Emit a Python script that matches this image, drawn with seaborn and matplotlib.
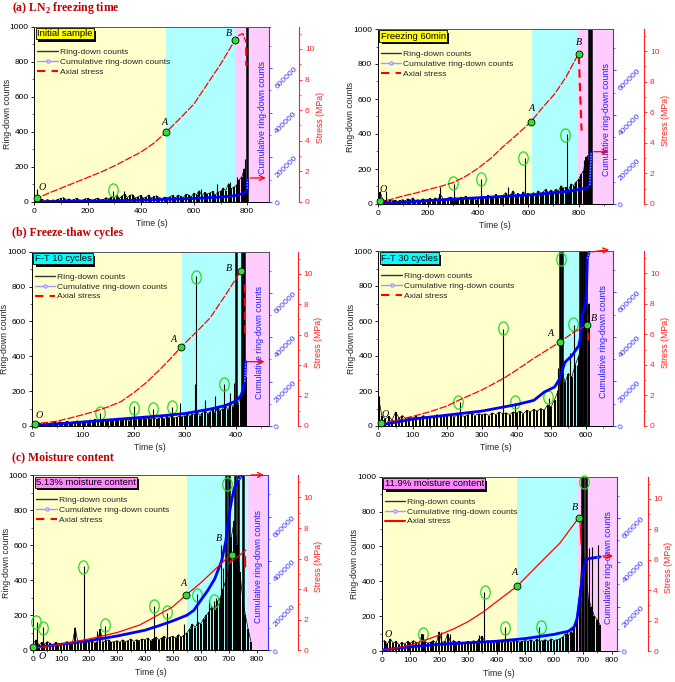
import numpy as np
import matplotlib
matplotlib.use("Agg")
import matplotlib.pyplot as plt
import matplotlib.patheffects as pe
import seaborn as sns
from matplotlib.lines import Line2D
from matplotlib.path import Path
from matplotlib.transforms import Affine2D, offset_copy
from matplotlib.ticker import MultipleLocator, FuncFormatter

sns.set_theme(style="ticks")
plt.rcParams["font.family"] = ["Liberation Sans", "DejaVu Sans"]
plt.rcParams["mathtext.fontset"] = "custom"
plt.rcParams["mathtext.bf"] = "Liberation Serif:bold"
plt.rcParams["mathtext.rm"] = "Liberation Serif:bold"

# ------------------------------------------------------------------ data
# phase boundaries (end of yellow, end of cyan) in s
p1_phase = [495, 755]
p2_phase = [615, 798]
p3_phase = [295, 415]
p4_phase = [527, 598]
p5_phase = [552, 768]
p6_phase = [470, 685]

# ring-down counts (background activity), sampled every `step` s from 0
p1_step, p1_noise = 10, [35,18,10,15,8,14,6,12,9,16, 20,25,12,18,10,15,22,12,10,18,
    20,15,10,18,22,12,15,25,18,30, 22,40,20,35,45,25,38,42,22,30,
    38,22,28,40,22,32,35,25,20,28, 25,30,38,22,40,32,25,45,40,30,
    50,42,65,35,55,45,52,60,40,55, 60,80,65,105,75,85,95,125,145,190, 50]
p2_step, p2_noise = 10, [15,70,25,20,12,25,18,22,15,20, 25,18,30,22,35,20,25,18,30,22,
    25,32,20,35,25,55,30,22,35,40, 30,35,25,40,32,45,30,38,35,25,
    40,32,45,35,50,38,32,55,40,45, 50,65,40,55,75,50,60,45,70,55,
    60,50,65,55,75,60,70,85,65,80, 70,85,75,105,90,95,80,115,105,125,
    140,170,190,270,240,290]
p3_step, p3_noise = 5, [15,20,12,18,10,15,20,12,18,22, 15,25,18,20,28,15,22,25,30,20,
    25,30,22,35,28,40,25,30,35,28, 30,40,35,28,45,32,38,42,30,45,
    40,35,50,38,45,40,55,42,48,38, 45,50,40,55,48,60,45,50,58,52,
    60,75,55,70,65,80,60,75,90,70, 80,95,75,110,85,100,120,90,130,110,
    150,120,180,200,280]
p4_step, p4_noise = 10, [170,60,40,55,35,80,45,60,40,50, 45,55,40,60,50,45,55,65,50,60,
    55,65,50,70,60,55,65,75,60,70, 65,70,60,75,65,80,70,75,65,80,
    75,85,70,90,80,95,85,100,90,120, 110,150,200,330,250,300,280,350,400,500,
    600,700]
p5_step, p5_noise = 10, [40,60,30,45,35,50,40,30,45,35, 40,35,50,45,40,130,45,55,40,50,
    45,55,40,50,120,45,55,60,45,50, 55,45,60,50,55,65,50,60,55,65,
    60,70,55,65,75,60,70,80,65,75, 80,70,90,75,85,100,120,150,130,160,
    150,180,200,220,250,230,280,300,350,400, 450,650,740,600,450,300,200,120,50]
p6_step, p6_noise = 10, [50,60,40,70,45,55,35,50,40,55, 45,60,50,40,95,55,45,50,60,45,
    110,50,55,100,45,60,50,55,45,50, 55,45,60,50,70,85,50,60,45,55,
    50,60,55,45,60,50,55,60,50,55, 60,55,65,50,70,55,60,65,55,70,
    60,65,70,80,100,90,110,130,200,350, 600,450,300,250,200,180,150]

# individual ring-down spikes (s, counts)
p1_spike_t = [10, 295, 336, 625, 685, 736, 760, 785, 792, 800]
p1_spike_v = [75, 62, 60, 72, 100, 116, 140, 180, 245, 1100]
p2_spike_t = [35, 250, 303, 413, 520, 586, 752, 820, 833, 840, 849]
p2_spike_v = [75, 95, 115, 145, 95, 265, 400, 250, 280, 1100, 1100]
p3_spike_t = [134, 200, 238, 275, 290, 320, 323, 340, 360, 378, 390, 396, 401, 412, 416]
p3_spike_v = [75, 115, 95, 108, 130, 240, 860, 150, 170, 240, 190, 245, 1100, 1100, 1100]
p4_spike_t = [3, 235, 362, 397, 493, 520, 527, 532, 545, 556, 565, 575, 585, 590, 595, 600]
p4_spike_v = [170, 135, 555, 130, 160, 330, 1100, 1100, 300, 420, 580, 350, 1100, 1100, 1100, 1100]
p5_spike_t = [12, 35, 150, 180, 230, 258, 433, 478, 540, 588, 628, 647, 655, 672, 680, 690, 702, 722, 735, 752]
p5_spike_v = [160, 135, 120, 480, 110, 140, 255, 215, 150, 320, 290, 280, 300, 600, 470, 1100, 1100, 1100, 1100, 1100]
p6_spike_t = [145, 205, 237, 340, 357, 428, 548, 645, 662, 680, 696, 701, 712, 722, 732, 752]
p6_spike_v = [100, 110, 100, 90, 340, 140, 135, 110, 110, 220, 1100, 1100, 1100, 590, 598, 610]

# highlighted spikes (green rings), (s, counts)
p1_ring_t, p1_ring_v = [295], [70]
p2_ring_t, p2_ring_v = [301, 410, 580, 745], [118, 141, 265, 394]
p3_ring_t, p3_ring_v = [134, 200, 238, 275, 322, 378], [73, 105, 96, 111, 853, 239]
p4_ring_t, p4_ring_v = [231, 362, 395, 490, 529, 562], [139, 562, 139, 164, 954, 581]
p5_ring_t, p5_ring_v = [10, 33, 179, 258, 433, 478, 587, 647, 693], [160, 130, 478, 145, 255, 217, 316, 284, 949]
p6_ring_t, p6_ring_v = [145, 359, 430, 554, 704], [97, 336, 134, 136, 971]

# cumulative ring-down counts
p1_cum_t = [0, 100, 200, 300, 400, 500, 600, 700, 750, 780, 795, 800, 801]
p1_cum = [0, 2000, 4000, 6000, 8500, 12000, 16000, 22000, 28000, 36000, 45000, 60000, 100000]
p2_cum_t = [0, 100, 200, 300, 400, 500, 600, 700, 780, 830, 845, 850]
p2_cum = [0, 8000, 15000, 22000, 28000, 34000, 40000, 50000, 60000, 72000, 85000, 230000]
p3_cum_t = [0, 25, 50, 100, 150, 200, 250, 300, 350, 380, 400, 410, 415, 418, 420]
p3_cum = [0, 4000, 9000, 18000, 27000, 36000, 45000, 56000, 76000, 92000, 112000, 135000, 165000, 200000, 290000]
p4_cum_t = [0, 100, 200, 300, 400, 450, 480, 510, 525, 540, 560, 580, 585, 590, 600, 603, 605, 610]
p4_cum = [3000, 31000, 49000, 67000, 96000, 115000, 152000, 175000, 212000, 286000, 315000, 360000,
          397000, 493000, 552000, 641000, 752000, 780000]
p5_cum_t = [0, 100, 200, 300, 400, 450, 500, 550, 575, 600, 625, 650, 675, 690, 700, 710, 720, 735, 745]
p5_cum = [12000, 27000, 43000, 64000, 90000, 110000, 132000, 157000, 179000, 224000, 268000, 320000,
          401000, 490000, 594000, 668000, 727000, 764000, 780000]
p6_cum_t = [0, 100, 200, 300, 400, 500, 600, 650, 670, 680, 690, 700, 706, 710, 720, 750, 760]
p6_cum = [4400, 19000, 30000, 37000, 44000, 56000, 75000, 89000, 108000, 145000, 241000, 345000,
          390000, 407000, 416000, 422000, 424000]

# axial stress (MPa)
p1_st_t = [0, 50, 100, 150, 200, 250, 300, 350, 400, 450, 495, 550, 600, 650, 700, 755, 770, 784, 796]
p1_st = [0.15, 0.55, 0.9, 1.25, 1.6, 1.95, 2.35, 2.8, 3.25, 3.85, 4.55, 5.5, 6.4, 7.7, 9.0, 10.6, 10.9, 11.0, 10.4]
p1_drop_t, p1_drop = [796, 796.5], [10.1, 8.9]
p2_st_t = [0, 50, 100, 150, 200, 250, 300, 350, 400, 450, 500, 550, 610, 650, 705, 750, 800]
p2_st = [0.14, 0.29, 0.52, 0.71, 0.94, 1.15, 1.40, 1.81, 2.34, 2.98, 3.76, 4.47, 5.37, 6.18, 7.21, 8.30, 9.84]
p2_drop_t, p2_drop = [801, 812], [9.7, 4.8]
p3_st_t = [0, 25, 50, 75, 100, 125, 150, 175, 200, 225, 250, 275, 293, 325, 350, 380, 410, 413]
p3_st = [0.15, 0.21, 0.32, 0.52, 0.74, 0.97, 1.26, 1.60, 2.18, 2.86, 3.66, 4.52, 5.19, 6.24, 7.10, 8.59, 10.18, 10.1]
p3_drop_t, p3_drop = [418, 418.5], [9.3, 5.8]
p4_st_t = [0, 50, 100, 150, 200, 235, 300, 362, 400, 450, 527, 565, 605]
p4_st = [0.17, 0.37, 0.63, 0.94, 1.32, 1.71, 2.36, 3.11, 3.66, 4.43, 5.52, 6.13, 6.61]
p4_drop_t, p4_drop = [607, 608], [6.1, 5.6]
p5_st_t = [0, 100, 200, 300, 382, 436, 500, 549, 600, 650, 680, 700, 720, 703, 762]
p5_st = [0.13, 0.40, 0.74, 1.16, 1.66, 2.20, 2.85, 3.64, 4.41, 5.27, 5.79, 6.13, 6.34, 5.69, 6.56]
p5_drop_t, p5_drop = [759, 759.5], [6.13, 5.47]
p6_st_t = [0, 50, 100, 150, 200, 250, 300, 355, 400, 472, 550, 620, 686, 690, 694]
p6_st = [0.07, 0.20, 0.39, 0.70, 1.05, 1.45, 1.92, 2.59, 3.24, 4.27, 5.76, 7.08, 8.76, 8.6, 7.0]
p6_drop_t, p6_drop = [], []

# characteristic points O, A, B (s, MPa)
p1_pts_t, p1_pts_s = [10, 495, 755], [0.29, 4.55, 10.6]
p2_pts_t, p2_pts_s = [8, 610, 800], [0.2, 5.37, 9.84]
p3_pts_t, p3_pts_s = [6, 293, 410], [0.15, 5.19, 10.18]
p4_pts_t, p4_pts_s = [7, 527, 605], [0.17, 5.52, 6.61]
p5_pts_t, p5_pts_s = [0, 549, 712], [0.2, 3.64, 6.25]
p6_pts_t, p6_pts_s = [472, 686], [4.27, 8.76]

titles = [r"(a) LN$_\mathbf{2}$ freezing time", "(b) Freeze-thaw cycles", "(c) Moisture content"]
tags = ["Initial sample", "Freezing 60min", "F-T 10 cycles", "F-T 30 cycles",
        "5.13% moisture content", "11.9% moisture content"]
legend_labels = ["Ring-down counts", "Cumulative ring-down counts", "Axial stress"]

# ------------------------------------------------------------------ layout / style
W, H = 675, 682
YEL, CYA, PNK = "#FFFFCC", "#B0FFFF", "#FFCCFF"
BLUE_AX, BLUE_LN = "#3535FF", "#0000FF"
RED = "#FF2020"
GREEN_FILL, GREEN_RING = "#33DD33", "#22DD22"
TAG_COL = ["#FFFF00", "#FFFF00", "#00FFFF", "#00FFFF", "#FF88FF", "#FF88FF"]

ELL = Path.unit_circle().transformed(Affine2D().scale(0.72, 1.0))

panels = [
    dict(box=(34.3, 26.7, 269.5, 202.0), xmax=884, xmaj=200, xmin=100, off=30,
         phase=p1_phase, step=p1_step, noise=p1_noise, sp_t=p1_spike_t, sp_v=p1_spike_v,
         ring_t=p1_ring_t, ring_v=p1_ring_v, cum_t=p1_cum_t, cum=p1_cum,
         st_t=p1_st_t, st=p1_st, dr_t=p1_drop_t, dr=p1_drop, pts_t=p1_pts_t, pts_s=p1_pts_s,
         letters=[("O", 31, 82), ("A", 488, 452), ("B", 733, 962)],
         arrow=((800, 137), (880, 137)), dashed=True, ccol_x=0.972),
    dict(box=(377.7, 29.0, 612.7, 204.0), xmax=936, xmaj=200, xmin=100, off=31.6,
         phase=p2_phase, step=p2_step, noise=p2_noise, sp_t=p2_spike_t, sp_v=p2_spike_v,
         ring_t=p2_ring_t, ring_v=p2_ring_v, cum_t=p2_cum_t, cum=p2_cum,
         st_t=p2_st_t, st=p2_st, dr_t=p2_drop_t, dr=p2_drop, pts_t=p2_pts_t, pts_s=p2_pts_s,
         letters=[("O", 20, 80), ("A", 614, 547), ("B", 802, 922)],
         arrow=((850, 299), (930, 299)), dashed=True, ccol_x=0.972),
    dict(box=(31.7, 251.7, 268.7, 426.0), xmax=465, xmaj=100, xmin=50, off=29,
         phase=p3_phase, step=p3_step, noise=p3_noise, sp_t=p3_spike_t, sp_v=p3_spike_v,
         ring_t=p3_ring_t, ring_v=p3_ring_v, cum_t=p3_cum_t, cum=p3_cum,
         st_t=p3_st_t, st=p3_st, dr_t=p3_drop_t, dr=p3_drop, pts_t=p3_pts_t, pts_s=p3_pts_s,
         letters=[("O", 14, 63), ("A", 278, 499), ("B", 388, 904)],
         arrow=((418, 369), (462, 369)), dashed=True, ccol_x=0.963),
    dict(box=(378.3, 251.0, 613.3, 426.0), xmax=680, xmaj=100, xmin=50, off=31,
         phase=p4_phase, step=p4_step, noise=p4_noise, sp_t=p4_spike_t, sp_v=p4_spike_v,
         ring_t=p4_ring_t, ring_v=p4_ring_v, cum_t=p4_cum_t, cum=p4_cum,
         st_t=p4_st_t, st=p4_st, dr_t=p4_drop_t, dr=p4_drop, pts_t=p4_pts_t, pts_s=p4_pts_s,
         letters=[("O", 21, 67), ("A", 498, 530), ("B", 623, 615)],
         arrow=((610, 993), (676, 1010)), dashed=True, ccol_x=0.957),
    dict(box=(33.3, 475.3, 267.7, 650.3), xmax=840, xmaj=100, xmin=50, off=30,
         phase=p5_phase, step=p5_step, noise=p5_noise, sp_t=p5_spike_t, sp_v=p5_spike_v,
         ring_t=p5_ring_t, ring_v=p5_ring_v, cum_t=p5_cum_t, cum=p5_cum,
         st_t=p5_st_t, st=p5_st, dr_t=p5_drop_t, dr=p5_drop, pts_t=p5_pts_t, pts_s=p5_pts_s,
         letters=[("O", 30, -36), ("A", 537, 379), ("B", 665, 640)],
         arrow=((770, 1002), (836, 1002)), dashed=False, ccol_x=0.96),
    dict(box=(381.7, 476.7, 616.7, 651.0), xmax=818, xmaj=100, xmin=50, off=31,
         phase=p6_phase, step=p6_step, noise=p6_noise, sp_t=p6_spike_t, sp_v=p6_spike_v,
         ring_t=p6_ring_t, ring_v=p6_ring_v, cum_t=p6_cum_t, cum=p6_cum,
         st_t=p6_st_t, st=p6_st, dr_t=p6_drop_t, dr=p6_drop, pts_t=p6_pts_t, pts_s=p6_pts_s,
         letters=[("O", 21, 92), ("A", 462, 449), ("B", 674, 822)],
         arrow=((760, 545), (815, 545)), dashed=False, ccol_x=0.964),
]

fig = plt.figure(figsize=(W / 100, H / 100), dpi=100)


def px_rect(l, t, r, b):
    return [l / W, (H - b) / H, (r - l) / W, (b - t) / H]


FS_TICK, FS_LAB, FS_LEG, FS_TAG = 6.0, 6.3, 6.1, 6.8
ST_DASH = (0, (6, 1.2))
PX2PT = 72 / 100

for i, P in enumerate(panels):
    ax = fig.add_axes(px_rect(*P["box"]))
    xmax = P["xmax"]
    ax.set_xlim(0, xmax)
    ax.set_ylim(0, 1000)
    tA, tB = P["phase"]
    ax.axvspan(0, tA, color=YEL, lw=0, zorder=0)
    ax.axvspan(tA, tB, color=CYA, lw=0, zorder=0)
    ax.axvspan(tB, xmax, color=PNK, lw=0, zorder=0)

    tn = np.arange(len(P["noise"])) * P["step"]
    ax.vlines(tn, 0, P["noise"], color="black", lw=1.4, zorder=2)
    sns.lineplot(x=tn, y=P["noise"], ax=ax, color="black", lw=0.5, estimator=None,
                 sort=False, legend=False, zorder=2)
    st = np.array(P["sp_t"], float)
    sv = np.array(P["sp_v"], float)
    big = sv >= 1000
    ax.vlines(st[~big], 0, sv[~big], color="black", lw=0.8, zorder=2)
    ax.vlines(st[big], 0, sv[big], color="black", lw=1.8, zorder=2)
    ax.plot(P["ring_t"], P["ring_v"], ls="none", marker=ELL, ms=9.5, mfc="none",
            mec=GREEN_RING, mew=0.9, zorder=5, clip_on=False)

    ax.xaxis.set_major_locator(MultipleLocator(P["xmaj"]))
    ax.xaxis.set_minor_locator(MultipleLocator(P["xmin"]))
    ax.yaxis.set_major_locator(MultipleLocator(200))
    ax.yaxis.set_minor_locator(MultipleLocator(100))
    ax.tick_params(which="major", length=2.5, width=0.6, labelsize=FS_TICK, pad=1.5,
                   direction="out", colors="black")
    ax.tick_params(which="minor", length=1.5, width=0.5, direction="out")
    ax.set_xlabel("")
    ax.set_ylabel("")
    ax.text(0.5, 0, "Time (s)", fontsize=FS_LAB, ha="center", va="center",
            transform=offset_copy(ax.transAxes, fig=fig, x=0, y=-22, units="dots"))
    ax.text(0, 0.5, "Ring-down counts", fontsize=FS_LAB, ha="center", va="center", rotation=90,
            transform=offset_copy(ax.transAxes, fig=fig, x=-27, y=0, units="dots"))
    for s in ["left", "bottom", "top"]:
        ax.spines[s].set_color("black")
        ax.spines[s].set_linewidth(0.7)
    ax.spines["top"].set_color("#555555")
    ax.spines["right"].set_visible(False)

    # cumulative counts axis
    axc = ax.twinx()
    axc.set_ylim(0, 785000)
    sns.lineplot(x=P["cum_t"], y=P["cum"], ax=axc, color=BLUE_LN, lw=2.0, estimator=None,
                 sort=False, legend=False)
    axc.plot(P["cum_t"][-2:], P["cum"][-2:], color="#9999FF", lw=1.0, ls=(0, (1, 1)))
    for s in ["left", "top", "bottom"]:
        axc.spines[s].set_visible(False)
    axc.spines["right"].set_color(BLUE_AX)
    axc.spines["right"].set_linewidth(0.8)
    axc.yaxis.set_major_locator(MultipleLocator(200000))
    axc.yaxis.set_minor_locator(MultipleLocator(100000))
    axc.yaxis.set_major_formatter(FuncFormatter(lambda v, p: f"{int(round(v))}"))
    axc.tick_params(axis="y", which="major", length=2.5, width=0.6, labelsize=6.0,
                    colors=BLUE_AX, labelrotation=45, pad=0.5)
    axc.tick_params(axis="y", which="minor", length=1.5, width=0.5, colors=BLUE_AX)
    axc.set_ylabel("")
    axc.text(P["ccol_x"], 0.48, "Cumulative ring-down counts", transform=axc.transAxes,
             rotation=90, ha="center", va="center", fontsize=FS_LAB, color="#2020FF")

    # stress axis
    axs = ax.twinx()
    axs.set_ylim(0, 11.45)
    axs.spines["right"].set_position(("outward", P["off"] * PX2PT))
    for s in ["left", "top", "bottom"]:
        axs.spines[s].set_visible(False)
    axs.spines["right"].set_color(RED)
    axs.spines["right"].set_linewidth(0.8)
    ls_main = ST_DASH if P["dashed"] else "-"
    sns.lineplot(x=P["st_t"], y=P["st"], ax=axs, color="red", lw=0.9, estimator=None,
                 sort=False, legend=False, linestyle=ls_main)
    if len(P["dr_t"]):
        axs.plot(P["dr_t"], P["dr"], color="red", lw=1.5,
                 ls=(0, (4, 2.5)) if P["dashed"] else "-")
    axs.plot(P["pts_t"], P["pts_s"], ls="none", marker="o", ms=5, mfc=GREEN_FILL,
             mec="black", mew=0.6, zorder=6, clip_on=False)
    axs.yaxis.set_major_locator(MultipleLocator(2))
    axs.yaxis.set_minor_locator(MultipleLocator(1))
    axs.tick_params(axis="y", which="major", length=2.5, width=0.6, labelsize=FS_TICK,
                    colors=RED, pad=1.5)
    axs.tick_params(axis="y", which="minor", length=1.5, width=0.5, colors=RED)
    axs.set_ylabel("")
    axs.text(1, 0.48, "Stress (MPa)", fontsize=FS_LAB, color=RED, rotation=90,
             ha="center", va="center",
             transform=offset_copy(axs.transAxes, fig=fig, x=P["off"] + 21, y=0, units="dots"))

    # letters O, A, B
    for txt, tx, ty in P["letters"]:
        axs.text(tx, ty, txt, transform=ax.transData, ha="center", va="center",
                 fontsize=7.2, style="italic", family=["Liberation Serif"], color="black",
                 zorder=7, clip_on=False)

    # red arrow
    (x0, y0), (x1, y1) = P["arrow"]
    axs.annotate("", xy=(x1, y1), xytext=(x0, y0), xycoords=ax.transData,
                 textcoords=ax.transData, annotation_clip=False,
                 arrowprops=dict(arrowstyle="->", color="red", lw=0.9, mutation_scale=9))

    # tag box with drop shadow
    tag = axs.text(0.012, 0.985, tags[i], transform=axs.transAxes, ha="left", va="top",
                   fontsize=FS_TAG, color="black", zorder=9,
                   bbox=dict(boxstyle="square,pad=0.12", fc=TAG_COL[i], ec="black", lw=0.6))
    tag.get_bbox_patch().set_path_effects(
        [pe.SimplePatchShadow(offset=(1.7, -1.7), shadow_rgbFace="black", alpha=1.0), pe.Normal()])

    # legend
    h1 = Line2D([], [], color="#333333", lw=1.0)
    h2 = Line2D([], [], color="#9C9CFF", lw=1.0, marker="o", ms=2.2, mfc="white", mec="#9C9CFF")
    h3 = Line2D([], [], color="red", lw=1.5, ls=(0, (4, 3)) if P["dashed"] or i == 4 else "-")
    leg = axs.legend([h1, h2, h3], legend_labels, loc="upper left", bbox_to_anchor=(0.013, 0.88),
                     frameon=False, fontsize=FS_LEG, handlelength=2.4, handletextpad=0.25,
                     labelspacing=0.24, borderpad=0, borderaxespad=0)
    leg.set_zorder(10)

# section titles
for txt, y in zip(titles, [7.5, 233.3, 457.3]):
    fig.text(11.7 / W, 1 - y / H, txt, ha="left", va="center", fontsize=8.5, fontweight="bold",
             family=["Liberation Serif"], color="#C00000")

fig.savefig("out.png", dpi=100)
